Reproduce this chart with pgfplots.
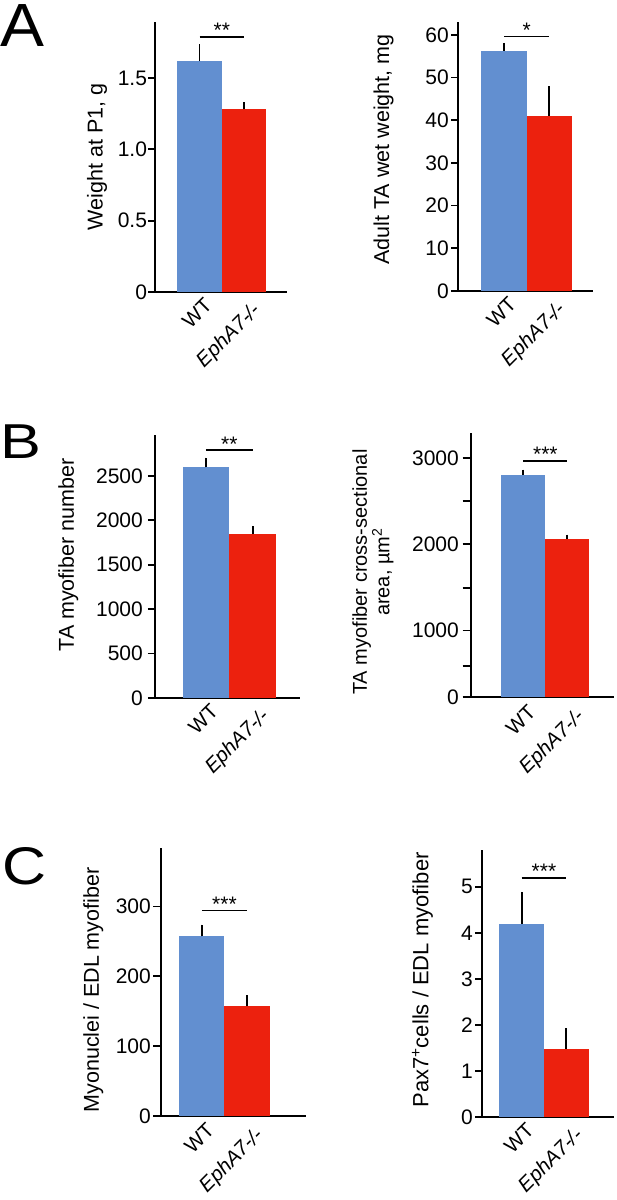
\documentclass[border=0pt]{standalone}
\usepackage{fontspec}
\setmainfont{Liberation Sans}
\usepackage{pgfplots}
\pgfplotsset{compat=1.18}
\definecolor{wtblue}{RGB}{98,143,208}
\definecolor{kored}{RGB}{236,33,14}
\newcommand{\fs}[1]{\fontsize{#1}{#1}\selectfont}
\pgfplotsset{
  panel/.style={
    scale only axis, anchor=south west,
    axis lines=left,
    axis line style={-, line width=1.8pt, black},
    ybar, bar width=1, ymin=0,
    xtick={0,1},
    xticklabels={WT,\raisebox{-5pt}[\height][\depth]{\textit{EphA7-/-}}\hspace{-9pt}},
    x tick label style={rotate=45, anchor=north east, font=\fs{20.5}, inner sep=0pt, xshift=4pt, yshift=-1pt},
    major x tick style={draw=none},
    tick align=outside, major tick length=7pt,
    major y tick style={line width=1.8pt, black},
    y tick label style={font=\fs{21}},
    ylabel style={font=\fs{21.5}, align=center, anchor=center},
    clip mode=individual,
  },
  bars/.style={fill=#1, draw=none, bar shift=0pt,
    error bars/.cd, y dir=plus, y explicit, error mark=none,
    error bar style={line width=1.8pt, black}},
}
\tikzset{
  sig/.style={line width=1.8pt},
  stars/.style={font=\fs{21}, anchor=base, inner sep=0pt, yshift=-1pt},
}
\begin{document}
\begin{tikzpicture}
\useasboundingbox (0pt,0pt) rectangle (617pt,1200pt);
\node[anchor=north west, inner sep=0pt, font=\fs{61}, xscale=1.08] at (0pt,1196pt) {A};
\node[anchor=north west, inner sep=0pt, font=\fs{49}, xscale=1.25] at (0pt,775pt) {B};
\node[anchor=north west, inner sep=0pt, font=\fs{53}, xscale=1.15] at (2pt,353pt) {C};

% A left
\begin{axis}[panel, at={(155pt,908pt)}, width=132pt, height=270pt,
  xmin=-1, xmax=1.96, ymax=1.893,
  ytick={0,0.5,1,1.5}, yticklabels={0,0.5,1.0,1.5},
  y tick label style={inner sep=0.8pt},
  ylabel={Weight at P1, g},
  ylabel style={at={(axis description cs:-0.439,0.5)}}]
\addplot[bars=wtblue] coordinates {(0,1.619) +- (0,0.117)};
\addplot[bars=kored] coordinates {(1,1.280) +- (0,0.052)};
\draw[sig] (axis cs:0,1.79) -- (axis cs:1,1.79);
\node[stars] at (axis cs:0.5,1.79) {**};
\end{axis}

% A right
\begin{axis}[panel, at={(458pt,909pt)}, width=135pt, height=269pt,
  xmin=-1.02, xmax=1.97, ymax=63,
  ytick={0,10,20,30,40,50,60}, yticklabels={0,10,20,30,40,50,60},
  y tick label style={inner sep=2pt},
  ylabel={Adult TA wet weight, mg},
  ylabel style={at={(axis description cs:-0.552,0.526)}}]
\addplot[bars=wtblue] coordinates {(0,56.3) +- (0,1.8)};
\addplot[bars=kored] coordinates {(1,41.1) +- (0,6.9)};
\draw[sig] (axis cs:0,59.6) -- (axis cs:1,59.6);
\node[stars] at (axis cs:0.5,59.6) {*};
\end{axis}

% B left
\begin{axis}[panel, at={(155pt,502pt)}, width=145pt, height=263pt,
  xmin=-1.09, xmax=2.01, ymax=2961,
  ytick={0,500,1000,1500,2000,2500}, yticklabels={0,500,1000,1500,2000,2500},
  y tick label style={inner sep=5pt},
  ylabel={TA myofiber number},
  ylabel style={at={(axis description cs:-0.597,0.544)}}]
\addplot[bars=wtblue] coordinates {(0,2597) +- (0,109)};
\addplot[bars=kored] coordinates {(1,1844) +- (0,94)};
\draw[sig] (axis cs:0,2792) -- (axis cs:1,2792);
\node[stars] at (axis cs:0.5,2792) {**};
\end{axis}

% B right
\begin{axis}[panel, at={(471pt,503pt)}, width=143pt, height=264pt,
  xmin=-1.19, xmax=2.06, ymin=229, ymax=3290,
  ytick={229,584,1000,1490,2000,2500,3000}, yticklabels={0,,1000,,2000,,3000},
  major tick length=8.5pt,
  y tick label style={inner sep=3.5pt},
  ylabel={TA myofiber cross-sectional\\area, µm\textsuperscript{2}},
  ylabel style={font=\fontsize{20}{21}\selectfont, at={(axis description cs:-0.685,0.473)}}]
\addplot[bars=wtblue] coordinates {(0,2806) +- (0,58)};
\addplot[bars=kored] coordinates {(1,2064) +- (0,47)};
\draw[sig] (axis cs:0,2969) -- (axis cs:1,2969);
\node[stars] at (axis cs:0.5,2969) {***};
\end{axis}

% C left
\begin{axis}[panel, at={(161pt,84pt)}, width=145pt, height=268pt,
  xmin=-0.91, xmax=2.31, ymax=383.6,
  ytick={0,100,200,300}, yticklabels={0,100,200,300},
  major tick length=8pt,
  y tick label style={inner sep=2pt},
  ylabel={Myonuclei / EDL myofiber},
  ylabel style={at={(axis description cs:-0.466,0.47)}}]
\addplot[bars=wtblue] coordinates {(0,257) +- (0,17)};
\addplot[bars=kored] coordinates {(1,157) +- (0,16)};
\draw[sig] (axis cs:0,294) -- (axis cs:1,294);
\node[stars] at (axis cs:0.5,294) {***};
\end{axis}

% C right
\begin{axis}[panel, at={(482pt,83pt)}, width=132pt, height=267pt,
  xmin=-0.89, xmax=2.07, ymax=5.80,
  ytick={0,1,2,3,4,5}, yticklabels={0,1,2,3,4,5},
  y tick label style={inner sep=2pt},
  ylabel={Pax7\textsuperscript{+}cells / EDL myofiber},
  ylabel style={font=\fs{22}, at={(axis description cs:-0.451,0.513)}}]
\addplot[bars=wtblue] coordinates {(0,4.20) +- (0,0.69)};
\addplot[bars=kored] coordinates {(1,1.486) +- (0,0.44)};
\draw[sig] (axis cs:0,5.20) -- (axis cs:1,5.20);
\node[stars] at (axis cs:0.5,5.20) {***};
\end{axis}
\end{tikzpicture}
\end{document}
